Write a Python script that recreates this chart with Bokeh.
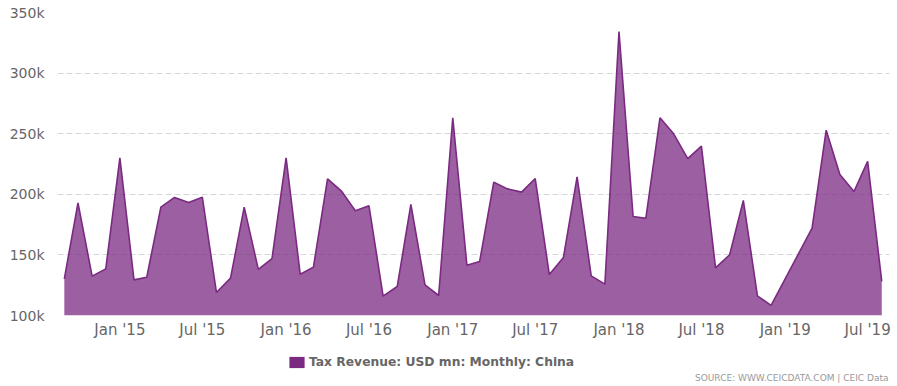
import pandas as pd
from bokeh.plotting import figure
from bokeh.layouts import column
from bokeh.models import (Range1d, FixedTicker, NumeralTickFormatter, Legend, LegendItem,
                          Label, ColumnDataSource)
from bokeh.embed import file_html
from bokeh.resources import INLINE

# ---- data (USD mn) ----
months = [
    "2014-09", "2014-10", "2014-11", "2014-12",
    "2015-01", "2015-02", "2015-03", "2015-04", "2015-05", "2015-06",
    "2015-07", "2015-08", "2015-09", "2015-10", "2015-11", "2015-12",
    "2016-01", "2016-02", "2016-03", "2016-04", "2016-05", "2016-06",
    "2016-07", "2016-08", "2016-09", "2016-10", "2016-11", "2016-12",
    "2017-01", "2017-02", "2017-03", "2017-04", "2017-05", "2017-06",
    "2017-07", "2017-08", "2017-09", "2017-10", "2017-11", "2017-12",
    "2018-01", "2018-02", "2018-03", "2018-04", "2018-05", "2018-06",
    "2018-07", "2018-08", "2018-09", "2018-10", "2018-11", "2018-12",
    "2019-03", "2019-04", "2019-05", "2019-06", "2019-07", "2019-08",
]
tax_revenue = [
    130300, 193000, 132500, 138500,
    230100, 129400, 131600, 189400, 197400, 193200,
    197600, 119000, 130800, 189400, 138000, 147000,
    230100, 134000, 139900, 212800, 202900, 186400,
    190500, 116000, 123900, 191600, 125300, 116500,
    263100, 141500, 144600, 210000, 204500, 201800,
    213000, 133800, 147900, 214400, 132700, 125900,
    334300, 181700, 180300, 263100, 249900, 229500,
    239700, 139300, 150100, 194900, 116200, 108300,
    172100, 252900, 216300, 202300, 227100, 128100,
]
tick_dates = ["2015-01", "2015-07", "2016-01", "2016-07", "2017-01", "2017-07",
              "2018-01", "2018-07", "2019-01", "2019-07"]
tick_labels = ["Jan '15", "Jul '15", "Jan '16", "Jul '16", "Jan '17", "Jul '17",
               "Jan '18", "Jul '18", "Jan '19", "Jul '19"]
y_ticks = [100000, 150000, 200000, 250000, 300000, 350000]
series_name = "Tax Revenue: USD mn: Monthly: China"
source_text = "SOURCE: WWW.CEICDATA.COM | CEIC Data"

PURPLE = "#7b2a82"
FONT = "DejaVu Sans"
W = 897

dates = pd.to_datetime(months)
src = ColumnDataSource(dict(x=dates, y=tax_revenue))

x_start = dates[0] - pd.Timedelta(days=15)
x_end = dates[-1] + pd.Timedelta(days=17)

p = figure(width=W, height=345, output_backend="svg", toolbar_location=None,
           x_axis_type="datetime",
           x_range=Range1d(x_start, x_end),
           y_range=Range1d(y_ticks[0], y_ticks[-1]),
           min_border_left=57, min_border_right=8, min_border_top=12, min_border_bottom=30)
p.outline_line_color = None
p.background_fill_color = "white"
p.border_fill_color = "white"

p.varea(x="x", y1=y_ticks[0], y2="y", source=src, fill_color=PURPLE, fill_alpha=0.75)
p.line(x="x", y="y", source=src, line_color=PURPLE, line_width=1.6)

# x axis
tick_ms = [pd.Timestamp(d).value / 1e6 for d in tick_dates]
p.xaxis.ticker = FixedTicker(ticks=tick_ms)
p.xaxis.major_label_overrides = {t: l for t, l in zip(tick_ms, tick_labels)}
p.xaxis.axis_line_color = None
p.xaxis.major_tick_line_color = None
p.xaxis.minor_tick_line_color = None
p.xaxis.major_tick_out = 0
p.xaxis.major_label_standoff = 5
p.xaxis.major_label_text_font = FONT
p.xaxis.major_label_text_font_size = "15px"
p.xaxis.major_label_text_color = "#666666"

# y axis
p.yaxis.ticker = FixedTicker(ticks=y_ticks)
p.yaxis.formatter = NumeralTickFormatter(format="0a")
p.yaxis.axis_line_color = None
p.yaxis.major_tick_line_color = None
p.yaxis.minor_tick_line_color = None
p.yaxis.major_tick_out = 0
p.yaxis.major_label_standoff = 13
p.yaxis.major_label_text_font = FONT
p.yaxis.major_label_text_font_size = "14px"
p.yaxis.major_label_text_color = "#666666"

p.xgrid.grid_line_color = None
p.ygrid.grid_line_color = "#d6d6d6"
p.ygrid.grid_line_dash = "6 3"
p.ygrid.grid_line_width = 1

# ---- legend / source strip (frame aligned with the chart's frame) ----
H2 = 41
p2 = figure(width=W, height=H2, output_backend="svg", toolbar_location=None,
            x_range=Range1d(0, 1), y_range=Range1d(0, 1),
            min_border=0, x_axis_location=None, y_axis_location=None)
p2.outline_line_color = None
p2.grid.visible = False
# zero-size legend proxy (draws nothing in the strip)
proxy = p2.quad(left=[0], right=[0], top=[0], bottom=[0], fill_color=PURPLE, line_color=None)

legend = Legend(items=[LegendItem(label=series_name, renderers=[proxy])],
                location=(230, 17), orientation="horizontal",
                glyph_width=19, glyph_height=14, label_height=14, label_standoff=3,
                padding=0, margin=0, border_line_color=None,
                background_fill_alpha=0,
                label_text_font=FONT, label_text_font_size="12.3px",
                label_text_font_style="bold", label_text_color="#666666")
p2.add_layout(legend)

p2.add_layout(Label(x=831, y=9, x_units="screen", y_units="screen", text=source_text,
                    text_align="right", text_baseline="middle", text_font=FONT,
                    text_font_size="9px", text_color="#999999"))

open("out.html", "w").write(file_html(column(p, p2, spacing=0), INLINE))
